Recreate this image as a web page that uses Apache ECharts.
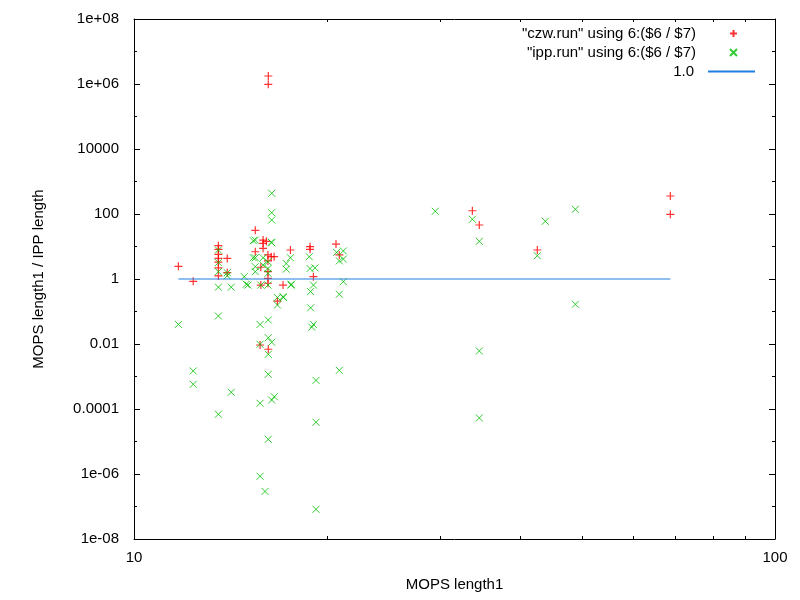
<!DOCTYPE html>
<html>
<head>
<meta charset="utf-8">
<script src="https://cdn.jsdelivr.net/npm/echarts@6/dist/echarts.min.js"></script>
<style>
  html, body { margin: 0; padding: 0; background: #fff; }
  #main { width: 800px; height: 600px; }
</style>
</head>
<body>
<div id="main"></div>
<script>
// values (x = MOPS length1, y = ratio)
var czwX = [11.73, 12.37, 13.54, 13.54, 13.54, 13.54, 13.54, 13.54, 13.54, 13.98, 13.98,
  15.46, 15.90, 15.90, 15.90, 16.09, 15.46, 16.18, 16.37, 16.54, 16.18, 15.77, 17.54,
  17.08, 16.18, 16.18, 16.18, 15.77, 16.74, 18.82, 18.82, 19.05, 20.66, 20.91,
  16.20, 16.20, 15.73, 16.20, 33.72, 34.57, 42.58, 68.66, 68.66];
var czwY = [2.46, 0.85, 10.6, 8.1, 5.75, 4.3, 3.3, 2.2, 1.24, 4.3, 1.56,
  31.5, 15.8, 12.5, 8.8, 14.4, 6.9, 5.5, 4.85, 4.85, 3.6, 2.3, 7.8,
  0.65, 1.68, 1.05, 0.74, 0.65, 0.21, 9.86, 8.2, 1.18, 11.9, 5.5,
  1.76e6, 9.8e5, 0.0093, 0.0069, 126, 45.9, 7.8, 358, 98];

var ippX = [11.73, 12.37, 12.37, 13.54, 13.54, 13.54, 13.54, 13.54, 13.54, 13.98, 13.98,
  14.18, 14.18, 14.86, 14.97, 15.35, 15.35, 15.46, 15.46, 15.46, 15.46, 15.90, 15.90,
  16.18, 16.18, 16.18, 16.18, 16.37, 17.54, 17.28, 17.28, 17.58, 15.06, 15.77,
  16.74, 17.08, 16.74, 17.60, 17.10, 18.77, 18.82, 19.16, 19.05, 18.86, 18.86,
  20.71, 21.21, 20.91, 21.21, 21.21, 20.91, 16.20, 15.73, 19.05, 18.94,
  15.73, 16.20, 16.40, 16.20, 20.91, 19.23, 16.20, 16.55, 16.40, 15.73,
  19.23, 16.20, 15.73, 16.01, 19.23, 16.40, 16.40, 16.40, 16.40,
  29.51, 33.72, 34.57, 42.58, 43.82, 48.82, 48.82, 34.57, 34.57];
var ippY = [0.040, 0.00148, 0.000575, 7.8, 3.2, 1.68, 0.56, 0.073, 6.9e-5, 1.56, 1.26,
  0.56, 3.27e-4, 1.18, 0.69, 15.1, 4.5, 15.8, 4.5, 2.4, 1.68, 4.5, 2.7,
  3.4, 2.1, 1.5, 0.65, 13.5, 4.5, 3.0, 2.0, 0.65, 0.65, 0.65,
  0.27, 0.285, 0.158, 0.69, 0.27, 4.85, 2.1, 2.2, 0.65, 0.41, 0.13,
  6.6, 7.3, 3.6, 4.1, 0.83, 0.34, 0.055, 0.040, 0.040, 0.033,
  0.0098, 0.0156, 0.0113, 0.0048, 0.00155, 7.6e-4, 0.00117, 2.39e-4, 1.89e-4, 1.5e-4,
  3.9e-5, 1.17e-5, 8.5e-7, 2.9e-7, 8.2e-8, 434, 110, 65.3, 13.1,
  121, 68.7, 14.4, 5.2, 59.6, 140, 0.167, 0.0061, 5.3e-5];

var refX = [11.73, 68.66];
var refY = [1.0, 1.0];

var names = ['"czw.run" using 6:($6 / $7)', '"ipp.run" using 6:($6 / $7)', '1.0'];

// labelled y ticks (every second decade) and all decade ticks
var yMajor = [1e-8, 1e-6, 1e-4, 1e-2, 1, 1e2, 1e4, 1e6, 1e8];
var yMinor = [1e-8, 1e-7, 1e-6, 1e-5, 1e-4, 1e-3, 1e-2, 1e-1, 1, 1e1, 1e2, 1e3, 1e4, 1e5, 1e6, 1e7, 1e8];

function zip(xs, ys) {
  return xs.map(function (x, i) { return [x, ys[i]]; });
}

function fmtY(v) {
  var e = Math.round(Math.log10(v));
  if (Math.abs(e) >= 5) {
    return '1e' + (e < 0 ? '-' : '+') + String(Math.abs(e)).padStart(2, '0');
  }
  return e < 0 ? v.toFixed(-e) : String(Math.round(v));
}

var font = 'Liberation Sans';
var plus = 'path://M0,4L8,4M4,0L4,8';
var cross = 'path://M0,0L8,8M8,0L0,8';

var chart = echarts.init(document.getElementById('main'));

function xAx(pos, labels) {
  return {
    type: 'log', logBase: 10, min: 10, max: 100, position: pos,
    axisLine: { lineStyle: { color: '#000', width: 1 } },
    axisTick: { inside: true, length: 6, lineStyle: { color: '#000' } },
    minorTick: { show: true, splitNumber: 9, length: 3, lineStyle: { color: '#000' } },
    splitLine: { show: false },
    minorSplitLine: { show: false },
    axisLabel: { show: labels, fontFamily: font, fontSize: 15, color: '#000', margin: 11 },
    name: labels ? 'MOPS length1' : '',
    nameLocation: 'middle', nameGap: 38,
    nameTextStyle: { fontFamily: font, fontSize: 15, color: '#000' }
  };
}

function yAx(pos, ticks, len, labels, line) {
  return {
    type: 'log', logBase: 10, min: 1e-8, max: 1e8, position: pos,
    axisLine: { show: line, lineStyle: { color: '#000', width: 1 } },
    axisTick: { inside: true, length: len, customValues: ticks, lineStyle: { color: '#000' } },
    splitLine: { show: false },
    axisLabel: {
      show: labels, customValues: yMajor, fontFamily: font, fontSize: 15,
      color: '#000', margin: 15, formatter: fmtY
    },
    name: labels ? 'MOPS length1 / IPP length' : '',
    nameLocation: 'middle', nameGap: 88,
    nameTextStyle: { fontFamily: font, fontSize: 15, color: '#000' }
  };
}

function legendFor(name, top, right, h) {
  return {
    data: [name], right: right, top: top, padding: 0, align: 'right',
    itemWidth: 47, itemHeight: h, selectedMode: false,
    textStyle: { fontFamily: font, fontSize: 15, color: '#000', padding: [0, 9, 0, 0] }
  };
}

var lineLegend = legendFor(names[2], 64, 44, 9);
lineLegend.itemStyle = { opacity: 0 };

var option = {
  animation: false,
  backgroundColor: '#fff',
  grid: { left: 134, top: 19, right: 25, bottom: 61, containLabel: false },
  legend: [
    legendFor(names[0], 26, 62, 7),
    legendFor(names[1], 45, 62, 7),
    lineLegend
  ],
  xAxis: [xAx('bottom', true), xAx('top', false)],
  yAxis: [
    yAx('left', yMajor, 6, true, true),
    yAx('left', yMinor, 3, false, false),
    yAx('right', yMajor, 6, false, true),
    yAx('right', yMinor, 3, false, false)
  ],
  series: [
    {
      name: names[0], type: 'scatter', data: zip(czwX, czwY),
      symbol: plus, symbolSize: 8,
      itemStyle: { color: 'rgba(0,0,0,0)', borderColor: '#ff0000', borderWidth: 1.2 }
    },
    {
      name: names[1], type: 'scatter', data: zip(ippX, ippY),
      symbol: cross, symbolSize: 7,
      itemStyle: { color: 'rgba(0,0,0,0)', borderColor: '#00c000', borderWidth: 1 }
    },
    {
      name: names[2], type: 'line', data: zip(refX, refY),
      symbol: 'none', lineStyle: { color: '#1e7fe0', width: 1 }
    }
  ]
};

chart.setOption(option);
</script>
</body>
</html>
